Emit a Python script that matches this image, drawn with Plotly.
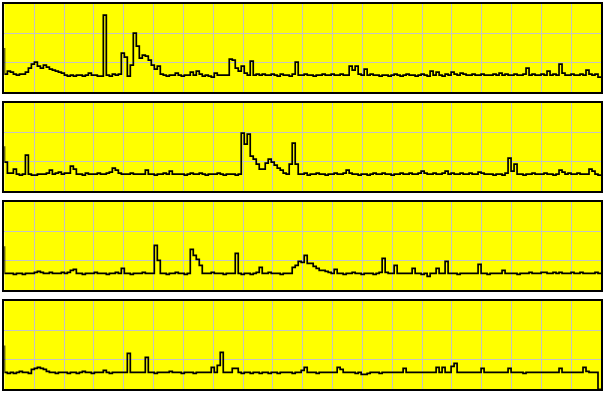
import plotly.graph_objects as go
from plotly.subplots import make_subplots

# Four monitoring series, one value per sample (heights)
series_1 = [44, 18, 21, 20, 18, 17, 18, 18, 20, 24,
            28, 30, 26, 24, 27, 25, 23, 22, 21, 20,
            19, 17, 16, 17, 16, 17, 17, 16, 17, 19,
            17, 17, 16, 16, 77, 17, 16, 18, 17, 18,
            39, 35, 16, 27, 59, 46, 34, 37, 36, 32,
            27, 23, 26, 18, 17, 16, 17, 17, 19, 17,
            16, 17, 17, 20, 17, 21, 18, 16, 17, 16,
            15, 19, 17, 17, 17, 17, 33, 32, 24, 21,
            26, 19, 17, 31, 17, 18, 17, 18, 17, 17,
            18, 17, 16, 18, 17, 17, 16, 18, 30, 17,
            17, 18, 17, 17, 16, 17, 17, 18, 17, 17,
            18, 17, 17, 18, 17, 17, 26, 22, 26, 18,
            17, 23, 17, 18, 17, 17, 16, 17, 17, 16,
            17, 18, 17, 16, 17, 18, 17, 17, 16, 17,
            18, 17, 16, 21, 17, 20, 17, 16, 18, 17,
            20, 18, 17, 19, 18, 17, 17, 18, 17, 17,
            18, 17, 17, 17, 18, 17, 19, 17, 18, 17,
            17, 18, 17, 17, 18, 24, 17, 18, 17, 17,
            18, 17, 21, 17, 18, 17, 28, 19, 17, 17,
            18, 17, 17, 18, 17, 22, 18, 17, 18, 15]

series_2 = [45, 29, 18, 18, 22, 17, 16, 17, 36, 17,
            16, 16, 17, 17, 17, 18, 21, 17, 18, 19,
            17, 18, 18, 25, 22, 17, 17, 16, 18, 17,
            17, 17, 18, 17, 17, 18, 19, 23, 21, 18,
            17, 17, 17, 18, 17, 17, 17, 17, 21, 17,
            17, 16, 17, 17, 18, 17, 20, 17, 17, 17,
            17, 16, 17, 18, 17, 17, 18, 17, 16, 17,
            17, 17, 18, 17, 16, 17, 17, 17, 16, 17,
            58, 47, 57, 35, 32, 27, 22, 22, 28, 32,
            29, 26, 23, 21, 18, 17, 27, 48, 27, 17,
            17, 18, 16, 17, 17, 18, 17, 17, 16, 17,
            17, 18, 17, 17, 18, 21, 18, 17, 17, 16,
            17, 17, 16, 17, 18, 17, 17, 18, 17, 17,
            16, 17, 17, 18, 17, 17, 18, 17, 17, 18,
            20, 18, 17, 17, 18, 17, 17, 18, 20, 17,
            18, 17, 17, 18, 17, 17, 18, 17, 17, 19,
            18, 17, 17, 17, 16, 17, 17, 16, 18, 33,
            20, 27, 17, 17, 16, 17, 17, 18, 17, 17,
            17, 18, 17, 17, 16, 17, 21, 19, 17, 18,
            17, 17, 18, 17, 17, 17, 22, 20, 17, 16]

series_3 = [44, 17, 17, 17, 16, 17, 17, 16, 17, 17,
            17, 18, 19, 18, 17, 17, 18, 17, 17, 17,
            18, 17, 18, 20, 21, 17, 17, 16, 17, 17,
            17, 18, 17, 17, 17, 16, 17, 17, 18, 17,
            22, 17, 17, 16, 17, 17, 17, 18, 17, 17,
            17, 45, 30, 17, 17, 16, 17, 17, 18, 17,
            17, 16, 17, 41, 35, 31, 25, 17, 17, 17,
            18, 17, 17, 17, 16, 17, 17, 17, 37, 17,
            16, 17, 17, 16, 17, 18, 23, 17, 17, 18,
            17, 17, 17, 16, 17, 17, 17, 23, 25, 29,
            28, 35, 27, 27, 24, 22, 20, 20, 19, 18,
            17, 21, 17, 17, 16, 17, 17, 18, 17, 17,
            16, 17, 17, 17, 16, 17, 18, 32, 18, 17,
            17, 25, 17, 17, 17, 17, 17, 22, 17, 17,
            16, 17, 14, 17, 17, 22, 17, 17, 29, 17,
            17, 17, 16, 17, 17, 17, 17, 17, 17, 26,
            17, 17, 16, 17, 17, 17, 17, 20, 17, 17,
            17, 17, 16, 17, 17, 17, 18, 17, 17, 17,
            18, 18, 17, 17, 18, 17, 18, 17, 17, 17,
            18, 17, 17, 18, 17, 17, 17, 17, 18, 17]

series_4 = [44, 17, 16, 17, 16, 17, 18, 17, 17, 16,
            20, 21, 22, 21, 20, 18, 17, 17, 16, 17,
            17, 17, 16, 17, 17, 16, 17, 18, 17, 17,
            16, 17, 17, 17, 19, 17, 16, 17, 17, 17,
            17, 17, 36, 17, 17, 17, 17, 17, 32, 17,
            17, 16, 17, 17, 17, 17, 18, 17, 17, 17,
            16, 17, 17, 17, 16, 17, 17, 17, 17, 17,
            22, 17, 24, 37, 17, 17, 17, 21, 21, 17,
            16, 17, 17, 16, 17, 17, 16, 17, 17, 16,
            17, 17, 16, 17, 17, 17, 17, 16, 17, 17,
            19, 22, 17, 17, 17, 16, 17, 17, 17, 17,
            17, 17, 22, 20, 17, 17, 17, 17, 16, 17,
            15, 15, 16, 17, 17, 17, 16, 17, 17, 17,
            17, 17, 17, 17, 21, 17, 17, 17, 17, 17,
            17, 17, 17, 17, 17, 22, 17, 22, 17, 17,
            23, 26, 17, 17, 17, 17, 17, 17, 17, 17,
            21, 17, 17, 17, 17, 17, 17, 17, 17, 21,
            17, 17, 17, 17, 16, 17, 17, 17, 17, 17,
            17, 17, 17, 17, 17, 17, 21, 17, 17, 17,
            17, 17, 17, 17, 22, 18, 17, 17, 17, 0]

all_series = [series_1, series_2, series_3, series_4]
samples = list(range(len(series_1)))

W, H = 604, 394
fig = make_subplots(rows=4, cols=1)

for k, s in enumerate(all_series, start=1):
    fig.add_trace(go.Scatter(x=samples, y=s, mode="lines",
                             line=dict(color="black", width=1.7, shape="vh"),
                             showlegend=False, hoverinfo="skip"),
                  row=k, col=1)

# panel geometry in pixels
left_px, right_px = 4.4, 601.0
panel_top = [3.5, 102.6, 201.7, 300.8]
panel_h = 88.6
y_max = 88.6

for k in range(4):
    top = panel_top[k]
    bot = top + panel_h
    sfx = "" if k == 0 else str(k + 1)
    fig.layout["xaxis" + sfx].update(
        domain=[left_px / W, right_px / W], range=[0, len(samples) - 1],
        tick0=0, dtick=(len(samples) - 1) / 20,
        showgrid=True, gridcolor="#c4c4c4", gridwidth=1.2,
        showline=True, mirror=True, linecolor="black", linewidth=2,
        showticklabels=False, ticks="", zeroline=False, anchor="y" + sfx)
    fig.layout["yaxis" + sfx].update(
        domain=[1 - bot / H, 1 - top / H], range=[0, y_max],
        tick0=0, dtick=y_max / 3,
        showgrid=True, gridcolor="#c4c4c4", gridwidth=1.2,
        showline=True, mirror=True, linecolor="black", linewidth=2,
        showticklabels=False, ticks="", zeroline=False, anchor="x" + sfx)

fig.update_layout(width=W, height=H, autosize=False,
                  margin=dict(l=0, r=0, t=0, b=0, pad=0),
                  paper_bgcolor="white", plot_bgcolor="#ffff00",
                  showlegend=False)

fig.write_html("out.html", config={"displayModeBar": False})
